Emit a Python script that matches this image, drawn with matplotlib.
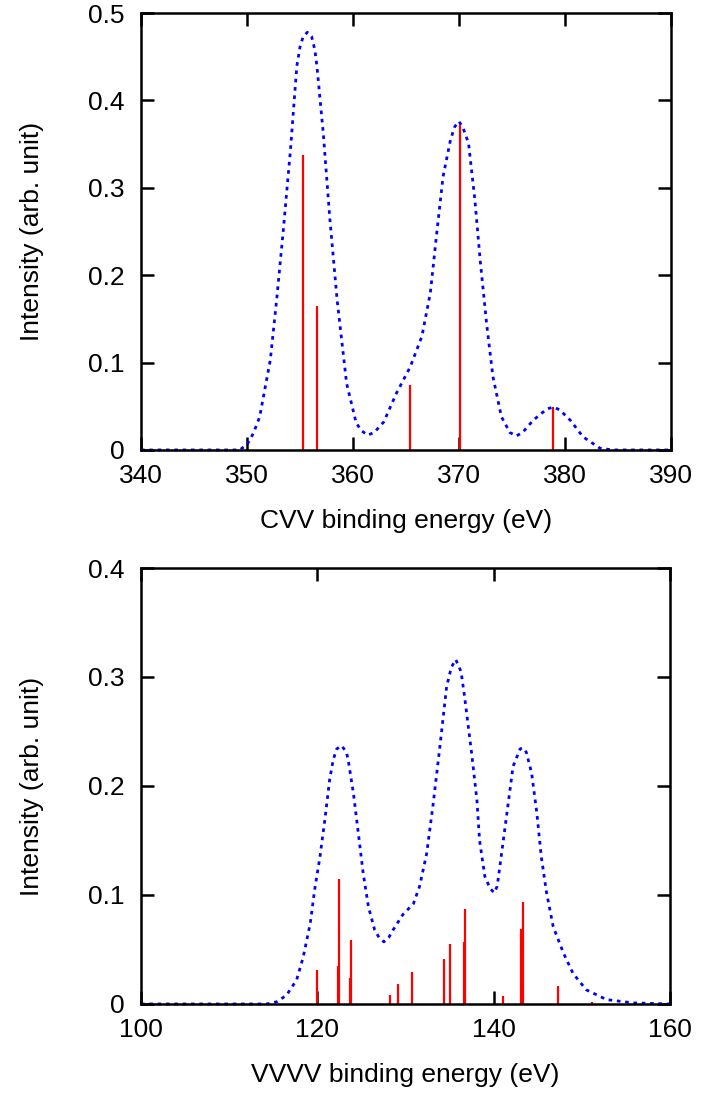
import matplotlib
matplotlib.use("Agg")
import matplotlib.pyplot as plt

plt.rcParams['font.family'] = ['Liberation Sans', 'DejaVu Sans']

# CVV spectrum: broadened curve and stick lines
cvv_curve_e = [340, 349.3, 350.0, 350.6, 351.2, 352.2, 352.8, 353.4, 354.1, 354.7,
               355.0, 355.3, 355.7, 356.1, 356.4, 356.6, 357.2, 357.8, 358.5,
               359.4, 360.3, 360.8, 361.4, 362.0, 362.9, 364.1, 365.4, 366.5,
               367.3, 367.9, 368.5, 369.2, 369.6, 370.0, 370.4, 370.9, 371.5,
               372.0, 372.6, 373.2, 374.0, 374.8, 375.4, 376.0, 377.0, 378.3,
               378.9, 379.5, 380.5, 381.7, 383.3, 384.5, 390]
cvv_curve_i = [0, 0, 0.006, 0.019, 0.038, 0.103, 0.172, 0.248, 0.343, 0.439,
               0.461, 0.473, 0.478, 0.473, 0.458, 0.439, 0.362, 0.267, 0.172,
               0.076, 0.031, 0.022, 0.017, 0.020, 0.032, 0.065, 0.095, 0.130,
               0.180, 0.248, 0.313, 0.355, 0.370, 0.376, 0.368, 0.351, 0.286,
               0.217, 0.145, 0.084, 0.038, 0.020, 0.016, 0.020, 0.034, 0.047,
               0.049, 0.046, 0.034, 0.015, 0.002, 0, 0]
cvv_stick_e = [355.3, 356.6, 365.4, 370.07, 378.9]
cvv_stick_i = [0.338, 0.165, 0.074, 0.372, 0.049]

# VVVV spectrum
vvvv_curve_e = [100, 114.25, 115.4, 116.5, 117.65, 118.4, 119.2, 119.7, 120.3,
                120.9, 121.4, 121.8, 122.2, 122.75, 123.3, 123.5, 124.1, 124.6,
                125.2, 125.8, 126.5, 127.0, 127.55, 128.1, 128.6, 129.7, 130.9,
                131.6, 132.4, 133.1, 133.9, 134.66, 135.2, 135.7, 136.3, 136.7,
                137.5, 138.1, 138.4, 139.0, 139.6, 140.06, 140.4, 140.7, 141.5,
                142.2, 143.0, 143.3, 143.7, 144.3, 144.9, 145.4, 146.0, 146.75,
                147.9, 149.0, 150.5, 152.8, 155.8, 160]
vvvv_curve_i = [0, 0, 0.002, 0.008, 0.022, 0.043, 0.074, 0.105, 0.135,
                0.172, 0.206, 0.224, 0.234, 0.237, 0.231, 0.224, 0.193, 0.160,
                0.120, 0.089, 0.068, 0.061, 0.057, 0.061, 0.068, 0.082, 0.092,
                0.108, 0.138, 0.181, 0.236, 0.291, 0.309, 0.316, 0.305, 0.282,
                0.230, 0.187, 0.150, 0.117, 0.106, 0.102, 0.108, 0.126, 0.175,
                0.218, 0.234, 0.235, 0.231, 0.212, 0.175, 0.135, 0.102, 0.071,
                0.047, 0.028, 0.013, 0.004, 0.001, 0]
vvvv_stick_e = [120.0, 122.4, 122.5, 123.7, 123.8, 128.2, 129.1, 129.2, 130.7,
                134.4, 135.0, 136.6, 136.7, 141.05, 143.1, 143.3, 147.3, 151.1]
vvvv_stick_i = [0.031, 0.035, 0.115, 0.024, 0.059, 0.008, 0.004, 0.018, 0.029,
                0.041, 0.055, 0.057, 0.087, 0.007, 0.069, 0.094, 0.0165, 0.002]

FS = 19


def draw_panel(ax, ce, ci, se, si, xlim, ylim, xticks, yticks, xlabel):
    ax.vlines(se, 0, si, colors='#ff0000', linewidth=1.6, zorder=2)
    ax.plot(ce, ci, color='#0000ff', linewidth=2.0, linestyle=(0, (1.3, 1.7)),
            zorder=3, clip_on=False)
    ax.set_xlim(*xlim)
    ax.set_ylim(*ylim)
    ax.set_xticks(xticks)
    ax.set_yticks(yticks)
    ax.set_yticklabels(['0' if t == 0 else '%g' % t for t in yticks])
    ax.tick_params(direction='in', top=True, right=True, length=9.5, width=1.8,
                   labelsize=FS)
    ax.tick_params(axis='x', pad=10)
    ax.tick_params(axis='y', pad=12)
    for s in ax.spines.values():
        s.set_linewidth(1.8)
        s.set_zorder(4)
    ax.set_xlabel(xlabel, fontsize=FS, va='center')
    ax.xaxis.set_label_coords(0.5, -0.163)
    ax.set_ylabel('Intensity (arb. unit)', fontsize=FS, va='center')
    ax.yaxis.set_label_coords(-0.2057, 0.5)


fig = plt.figure(figsize=(7.01, 10.94), dpi=100)
ax1 = fig.add_axes([0.2011, 0.5887, 0.7561, 0.3994])
ax2 = fig.add_axes([0.2011, 0.0823, 0.7547, 0.3985])

draw_panel(ax1, cvv_curve_e, cvv_curve_i, cvv_stick_e, cvv_stick_i,
           (340, 390), (0, 0.5), [340, 350, 360, 370, 380, 390],
           [0, 0.1, 0.2, 0.3, 0.4, 0.5], 'CVV binding energy (eV)')
draw_panel(ax2, vvvv_curve_e, vvvv_curve_i, vvvv_stick_e, vvvv_stick_i,
           (100, 160), (0, 0.4), [100, 120, 140, 160],
           [0, 0.1, 0.2, 0.3, 0.4], 'VVVV binding energy (eV)')

fig.savefig('out.png', dpi=100)
